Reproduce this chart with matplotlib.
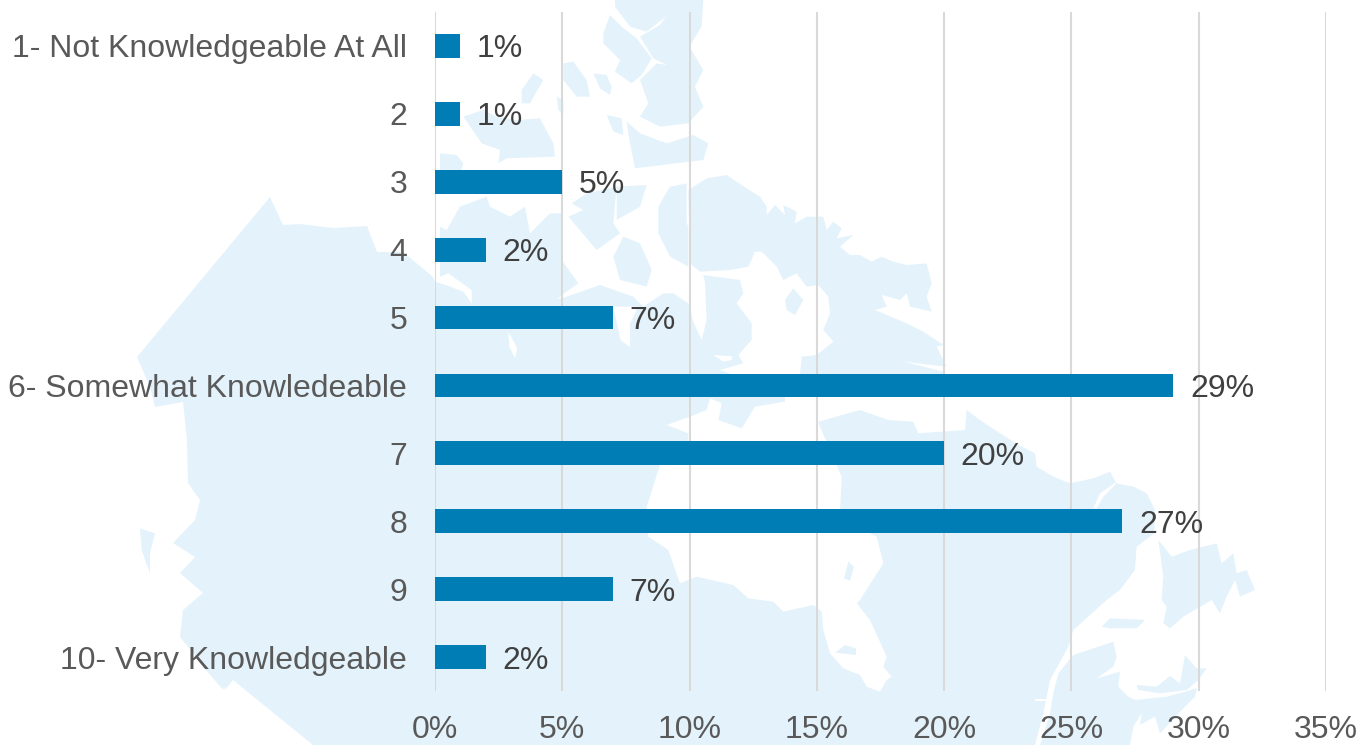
import matplotlib
matplotlib.use("Agg")
import matplotlib.pyplot as plt
from matplotlib.patches import Polygon

plt.rcParams['font.family'] = ['Liberation Sans', 'DejaVu Sans']

categories = ["1- Not Knowledgeable At All", "2", "3", "4", "5",
              "6- Somewhat Knowledeable", "7", "8", "9", "10- Very Knowledgeable"]
shares = [1, 1, 5, 2, 7, 29, 20, 27, 7, 2]
x_ticks = [0, 5, 10, 15, 20, 25, 30, 35]

MAP_BLUE = "#E4F3FB"
BAR_BLUE = "#007DB5"


def px(x0, y0, pts):
    return [(x0 + x / 3, y0 + y / 3) for x, y in pts]


# background map of Canada, traced in image pixels
mainland = (
    [(313, 745), (233, 680), (225, 690), (213, 643), (193, 653), (180, 637), (183, 610),
     (203, 593), (180, 573), (195, 557), (173, 543), (195, 520), (200, 500), (188, 483),
     (187, 440), (183, 402), (155, 407), (150, 387), (137, 357), (270, 197), (283, 225),
     (300, 224), (333, 228), (367, 226), (377, 252), (403, 252), (433, 277)]
    + px(430, 260, [(15, 65), (60, 80), (100, 95), (125, 130), (130, 150), (395, 115), (510, 75),
                    (610, 110), (640, 140), (700, 100), (730, 100), (775, 130), (790, 185),
                    (815, 240), (830, 180), (825, 70), (820, 45), (930, 60), (940, 100),
                    (920, 130), (965, 190), (965, 240), (920, 290), (850, 285), (880, 305),
                    (905, 300), (910, 260), (940, 310), (870, 330), (1065, 405), (1065, 425),
                    (975, 440), (935, 505), (865, 480), (875, 430), (840, 415), (830, 450),
                    (780, 470), (710, 495), (775, 520), (775, 545), (690, 615), (650, 740)])
    + px(600, 520, [(145, 50), (205, 90), (240, 190), (290, 170), (400, 195), (445, 235),
                    (520, 245), (550, 275), (640, 255), (665, 275), (670, 330), (690, 400),
                    (730, 445), (780, 465), (800, 500), (840, 515), (860, 480), (875, 470),
                    (850, 440), (860, 410), (810, 300), (770, 250), (780, 240), (850, 130),
                    (830, 50)])
    + px(800, 370, [(210, 490), (120, 420), (125, 320), (60, 170), (55, 155), (180, 120),
                    (265, 150), (340, 155), (355, 190), (495, 180), (500, 120), (540, 150),
                    (600, 190), (665, 230), (705, 250), (710, 290), (760, 320), (810, 340),
                    (880, 325), (930, 305), (950, 340), (1000, 350), (1040, 370), (1065, 420),
                    (1063, 490), (1010, 530), (1005, 600), (960, 660), (920, 690)])
    + px(1000, 600, [(220, 90), (205, 140), (150, 240), (130, 340), (105, 435)])
)

lands = [
    mainland,
    # gulf shore, nova scotia, anticosti
    px(1000, 600, [(120, 435), (150, 340), (160, 280), (175, 220), (220, 165), (340, 125),
                   (350, 170), (340, 200), (290, 235), (360, 215), (355, 260), (385, 290),
                   (405, 300), (500, 290), (590, 265), (585, 290), (555, 320), (480, 400),
                   (465, 350), (420, 375), (425, 340), (400, 380), (390, 435)]),
    px(1000, 600, [(555, 165), (590, 205), (620, 205), (595, 240), (560, 270), (480, 280),
                   (415, 270), (410, 255), (470, 260), (510, 228), (540, 250)]),
    px(1000, 600, [(305, 80), (330, 55), (435, 60), (410, 85), (330, 85)]),
    # newfoundland
    px(800, 370, [(1075, 510), (1115, 560), (1170, 540), (1210, 530), (1250, 520), (1265, 580),
                  (1300, 550), (1310, 610), (1340, 600), (1365, 660), (1320, 680), (1305, 630),
                  (1280, 680), (1260, 730), (1235, 690), (1150, 740), (1110, 775), (1090, 760),
                  (1100, 710), (1085, 690), (1090, 620)]),
    # baffin
    px(680, 170, [(25, 60), (80, 25), (140, 15), (200, 55), (240, 80), (260, 110), (260, 135),
                  (285, 105), (315, 135), (310, 105), (350, 125), (345, 160), (380, 140),
                  (430, 140), (440, 180), (460, 155), (485, 175), (470, 205), (520, 195),
                  (480, 230), (510, 255), (540, 255), (575, 275), (605, 260), (640, 275),
                  (680, 285), (740, 280), (750, 320), (755, 340), (740, 380), (755, 425),
                  (690, 410), (680, 370), (660, 390), (605, 375), (620, 410), (585, 420),
                  (680, 460), (730, 485), (790, 525), (770, 530), (800, 590), (670, 575),
                  (790, 605), (800, 615), (440, 612), (360, 612), (365, 560), (410, 555),
                  (460, 515), (430, 480), (450, 430), (445, 380), (415, 345), (380, 350),
                  (350, 310), (310, 330), (290, 290), (265, 265), (245, 245), (225, 245),
                  (205, 290), (150, 300), (60, 305), (30, 280)]),
    px(680, 170, [(315, 390), (340, 355), (370, 390), (345, 435), (320, 420)]),
    # arctic islands
    px(440, 0, [(525, 0), (790, 0), (785, 80), (748, 140), (790, 210), (765, 260), (790, 320),
                (745, 370), (660, 380), (600, 350), (625, 310), (600, 240), (650, 190),
                (680, 195), (640, 175), (600, 110), (660, 75), (678, 50), (620, 95), (570, 80),
                (525, 20)]),
    px(440, 0, [(490, 100), (510, 45), (545, 80), (590, 115), (635, 175), (605, 225), (575, 250),
                (525, 215), (540, 180), (490, 130)]),
    px(440, 0, [(460, 220), (500, 225), (515, 260), (510, 285), (480, 265)]),
    px(440, 0, [(370, 190), (400, 185), (440, 240), (450, 290), (410, 290), (370, 240)]),
    px(440, 0, [(500, 345), (545, 355), (550, 405), (520, 395)]),
    px(440, 0, [(560, 365), (600, 400), (680, 430), (760, 405), (805, 430), (790, 480),
                (585, 505), (570, 430)]),
    px(440, 0, [(280, 220), (310, 240), (270, 310), (245, 310), (245, 270)]),
    px(440, 0, [(350, 290), (370, 300), (370, 345), (355, 330)]),
    px(440, 0, [(70, 350), (130, 330), (170, 350), (225, 360), (300, 355), (340, 430), (345, 470),
                (200, 475), (175, 490), (180, 450), (125, 430)]),
    px(440, 0, [(0, 460), (50, 465), (70, 490), (60, 520), (0, 520)]),
    # victoria and the islands under bars 3 to 5
    px(440, 0, [(20, 690), (60, 620), (140, 590), (150, 620), (210, 650), (255, 620), (270, 700),
                (330, 640), (365, 640), (365, 780), (415, 850), (365, 885), (300, 950), (60, 950),
                (95, 920), (95, 870), (25, 820)]),
    px(440, 0, [(385, 650), (430, 630), (395, 610), (440, 580), (530, 560), (520, 670),
                (540, 700), (470, 750)]),
    px(440, 0, [(530, 560), (620, 555), (600, 620), (530, 660)]),
    px(440, 0, [(655, 620), (690, 560), (740, 550), (740, 680), (720, 630), (745, 680),
                (745, 800), (690, 770), (655, 700)]),
    px(440, 0, [(520, 770), (550, 710), (600, 730), (635, 810), (620, 860), (540, 840)]),
    px(440, 0, [(0, 680), (20, 690), (25, 820), (0, 830)]),
    # vancouver island and haida gwaii
    px(100, 180, [(120, 1045), (165, 1060), (150, 1120), (150, 1180), (125, 1110)]),
    px(100, 180, [(245, 1360), (340, 1390), (380, 1480), (370, 1530), (300, 1450)]),
    # small islands in james bay
    px(600, 520, [(745, 125), (762, 140), (750, 182), (732, 175)]),
    px(600, 520, [(705, 398), (735, 375), (768, 385), (768, 405)]),
]

# inlets cut back out of the land
waters = [
    px(430, 260, [(235, 215), (262, 265), (255, 295), (238, 260)]),
    px(430, 260, [(550, 140), (625, 140), (600, 190), (600, 262), (572, 240)]),
    px(800, 370, [(880, 415), (900, 370), (950, 335), (945, 345), (910, 380), (890, 415)]),
    px(1000, 600, [(105, 296), (140, 296), (140, 302), (105, 302)]),
]

fig = plt.figure(figsize=(13.62, 7.45), dpi=100)

bg = fig.add_axes([0, 0, 1, 1], zorder=0)
bg.set_xlim(0, 1362)
bg.set_ylim(745, 0)
bg.axis('off')
for outline in lands:
    bg.add_patch(Polygon(outline, closed=True, facecolor=MAP_BLUE, edgecolor='none'))
for outline in waters:
    bg.add_patch(Polygon(outline, closed=True, facecolor='white', edgecolor='none'))

ax = fig.add_axes([435 / 1362, 1 - 691 / 745, 891 / 1362, 679 / 745], zorder=1)
ax.patch.set_alpha(0)

y_pos = list(range(len(categories)))
bars = ax.barh(y_pos, shares, height=0.35, color=BAR_BLUE, zorder=3)
value_labels = ax.bar_label(bars, labels=[f"{v}%" for v in shares], padding=12, fontsize=23,
                            color="#404040")
for label in value_labels:
    label.set_verticalalignment('center_baseline')

ax.set_xlim(0, 35)
ax.set_ylim(len(categories) - 0.5, -0.5)
ax.set_yticks(y_pos)
ax.set_yticklabels(categories)
ax.set_xticks(x_ticks)
ax.set_xticklabels([f"{t}%" for t in x_ticks])
ax.tick_params(axis='both', length=0, labelsize=23, labelcolor="#595959")
ax.tick_params(axis='y', pad=20)
ax.tick_params(axis='x', pad=17)
ax.grid(True, axis='x', color="#D9D9D9", linewidth=1.5, zorder=1)
ax.set_axisbelow(True)
for spine in ax.spines.values():
    spine.set_visible(False)

fig.savefig("out.png", dpi=100)
